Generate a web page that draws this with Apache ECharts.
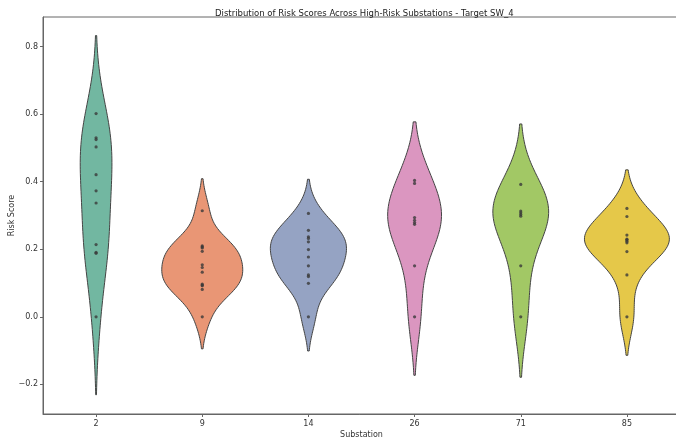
<!DOCTYPE html>
<html><head><meta charset="utf-8">
<script src="https://cdn.jsdelivr.net/npm/echarts@6/dist/echarts.min.js"></script>
<style>html,body{margin:0;padding:0;background:#fff}#c{width:676px;height:441px}</style>
</head><body><div id="c"></div>
<script>
// ---- data ----
const categories = ['2', '9', '14', '26', '71', '85'];
const scores2  = [0.602, 0.530, 0.525, 0.503, 0.421, 0.373, 0.337, 0.214, 0.191, 0.188, 0.0];
const scores9  = [0.314, 0.210, 0.207, 0.204, 0.194, 0.154, 0.146, 0.132, 0.097, 0.094, 0.092, 0.081, 0.0];
const scores14 = [0.306, 0.256, 0.237, 0.232, 0.222, 0.199, 0.177, 0.151, 0.124, 0.119, 0.099, 0.0];
const scores26 = [0.404, 0.395, 0.294, 0.286, 0.279, 0.274, 0.151, 0.0];
const scores71 = [0.392, 0.313, 0.308, 0.303, 0.298, 0.151, 0.0];
const scores85 = [0.321, 0.297, 0.242, 0.230, 0.228, 0.224, 0.219, 0.193, 0.124, 0.0];
const yTickValues = [-0.2, 0.0, 0.2, 0.4, 0.6, 0.8];
const yTickLabels = ['\u22120.2', '0.0', '0.2', '0.4', '0.6', '0.8'];
const titleText = 'Distribution of Risk Scores Across High-Risk Substations - Target SW_4';

const groups = [scores2, scores9, scores14, scores26, scores71, scores85];
const colors = ['#72b7a1', '#e99675', '#95a3c3', '#db96c0', '#a2c865', '#e5c849'];

// Gaussian KDE (Scott bandwidth, cut = 2), as seaborn's violinplot does
function kde(vals) {
  const n = vals.length;
  const mean = vals.reduce((a, b) => a + b, 0) / n;
  const sd = Math.sqrt(vals.reduce((a, b) => a + (b - mean) * (b - mean), 0) / (n - 1));
  const bw = sd * Math.pow(n, -0.2);
  const lo = Math.min(...vals) - 2 * bw, hi = Math.max(...vals) + 2 * bw;
  const pts = [];
  const G = 100;
  for (let k = 0; k < G; k++) {
    const y = lo + (hi - lo) * k / (G - 1);
    let d = 0;
    for (const v of vals) { const z = (y - v) / bw; d += Math.exp(-0.5 * z * z); }
    d /= n * bw * Math.sqrt(2 * Math.PI);
    pts.push([y, d]);
  }
  return pts;
}
const curves = groups.map(kde);
let globalMax = 0;
curves.forEach(c => c.forEach(p => { if (p[1] > globalMax) globalMax = p[1]; }));

const pointData = [];
groups.forEach((g, i) => g.forEach(v => pointData.push([i, v])));

const FONT = 'DejaVu Sans';
const chart = echarts.init(document.getElementById('c'), null, { renderer: 'canvas' });
chart.setOption({
  animation: false,
  backgroundColor: '#fff',
  title: {
    text: titleText, left: 210, top: 4,
    textStyle: { fontFamily: FONT, fontSize: 8.5, fontWeight: 'normal', color: '#222' }
  },
  grid: {
    left: 43, right: -4, top: 17, bottom: 27,
    show: true, borderColor: '#666', borderWidth: 1,
    containLabel: false, outerBoundsMode: 'none'
  },
  xAxis: {
    type: 'category', data: categories,
    name: 'Substation', nameLocation: 'middle', nameGap: 17, nameMoveOverlap: false,
    nameTextStyle: { fontFamily: FONT, fontSize: 8, color: '#333' },
    axisLine: { show: true, onZero: false, lineStyle: { color: '#666', width: 1 } },
    axisTick: { show: true, alignWithLabel: true, length: 3, lineStyle: { color: '#666' } },
    axisLabel: { fontFamily: FONT, fontSize: 8, color: '#333', margin: 6 },
    splitLine: { show: false }
  },
  yAxis: {
    type: 'value', min: -0.288, max: 0.888,
    name: 'Risk Score', nameLocation: 'middle', nameGap: 27, nameMoveOverlap: false,
    nameTextStyle: { fontFamily: FONT, fontSize: 8, color: '#333' },
    axisLine: { show: true, onZero: false, lineStyle: { color: '#666', width: 1 } },
    axisTick: { show: true, length: 3, customValues: yTickValues, lineStyle: { color: '#666' } },
    axisLabel: {
      fontFamily: FONT, fontSize: 8, color: '#333', margin: 5,
      customValues: yTickValues,
      formatter: function (v) {
        for (let k = 0; k < yTickValues.length; k++) if (Math.abs(yTickValues[k] - v) < 1e-9) return yTickLabels[k];
        return '';
      }
    },
    splitLine: { show: false }
  },
  series: [
    {
      type: 'custom',
      data: categories.map((c, i) => [i, 0]),
      encode: { x: 0, y: 1 },
      z: 2,
      renderItem: function (params, api) {
        const i = api.value(0);
        const curve = curves[i];
        const cx = api.coord([i, 0])[0];
        const band = api.size([1, 0])[0];
        const scale = 0.4 * band / globalMax;
        const right = [], left = [];
        curve.forEach(p => {
          const py = api.coord([i, p[0]])[1];
          right.push([cx + p[1] * scale, py]);
          left.push([cx - p[1] * scale, py]);
        });
        const pts = right.concat(left.reverse());
        return {
          type: 'polygon',
          shape: { points: pts },
          style: { fill: colors[i], stroke: '#444', lineWidth: 1 }
        };
      }
    },
    {
      type: 'scatter',
      data: pointData,
      symbol: 'circle',
      symbolSize: 3.2,
      z: 3,
      itemStyle: { color: '#3a3a3a' }
    }
  ]
});
</script></body></html>
